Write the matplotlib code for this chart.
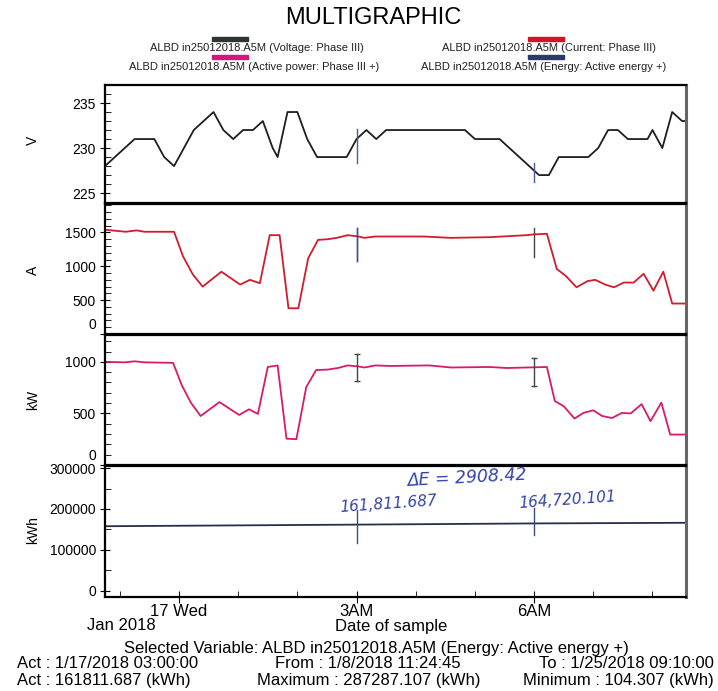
import matplotlib
matplotlib.use("Agg")
import matplotlib.pyplot as plt
from matplotlib.patches import Rectangle
from matplotlib.ticker import MultipleLocator, FixedLocator

plt.rcParams['font.family'] = ['Liberation Sans', 'DejaVu Sans']

W, H = 718, 691

# time = minutes after midnight of 17 Jan 2018 (negative = evening of the 16th)
voltT = [-75, -45, -25, -15, -5, 15, 35, 45, 55, 65, 75, 85, 95, 100, 110, 120, 130, 140, 170, 180,
         190, 200, 210, 290, 300, 325, 365, 375, 385, 415, 425, 435, 445, 455, 475, 480, 490, 500, 510, 515]
voltV = [228, 231, 231, 229, 228, 232, 234, 232, 231, 232, 232, 233, 230, 229, 234, 234, 231, 229, 229, 231,
         232, 231, 232, 232, 231, 231, 227, 227, 229, 229, 230, 232, 232, 231, 231, 232, 230, 234, 233, 233]

currT = [-75, -54, -43, -35, -5, 4, 14, 24, 43, 62, 72, 82, 92, 102, 111, 121, 131, 141, 151, 160, 171, 182,
         188, 199, 214, 248, 275, 315, 353, 359, 373, 383, 392, 403, 414, 422, 432, 441, 451, 461, 471, 481,
         491, 500, 515]
currA = [1540, 1510, 1530, 1510, 1510, 1150, 880, 700, 920, 730, 800, 750, 1460, 1460, 380, 380, 1120, 1390,
         1400, 1420, 1460, 1440, 1420, 1440, 1440, 1440, 1420, 1430, 1460, 1470, 1480, 960, 860, 690, 780,
         800, 730, 690, 760, 760, 890, 640, 920, 450, 450]

powT = [-75, -55, -45, -35, -6, 3, 12, 22, 41, 61, 71, 80, 90, 100, 109, 119, 129, 139, 151, 161, 171, 182,
        188, 199, 214, 254, 276, 315, 332, 373, 381, 390, 401, 410, 420, 429, 439, 449, 458, 469, 478, 489,
        498, 515]
powKW = [1000, 995, 1005, 995, 990, 770, 605, 475, 610, 485, 540, 495, 950, 965, 255, 250, 755, 920, 925, 940,
         965, 955, 945, 965, 960, 965, 945, 950, 940, 950, 620, 570, 450, 505, 530, 475, 455, 505, 500, 590,
         425, 605, 295, 295]

energyT = [-75, 180, 360, 515]
energyKWh = [157900, 161811.687, 164720.101, 166300]

# cursor marks drawn on the printout (3AM and 6AM)
cursorT = [180, 360]
voltCursor = [(228.3, 232.1), (226.2, 228.3)]
currCursor = [(1075, 1570), (1140, 1570)]
powCursor = [(810, 1080), (765, 1040)]
energyCursor = [(117000, 197500), (136000, 202000)]

hourTicks = [0, 180, 360]
hourLabels = ['17 Wed', '3AM', '6AM']
minorHours = [-60, 60, 120, 240, 300, 420, 480]

legendNames = ['ALBD in25012018.A5M (Voltage: Phase III)',
               'ALBD in25012018.A5M (Current: Phase III)',
               'ALBD in25012018.A5M (Active power: Phase III +)',
               'ALBD in25012018.A5M (Energy: Active energy +)']
legendColors = ['#2e3434', '#d2142a', '#d4177a', '#2e3a66']

penBlue = '#3344a8'


def box(top, bottom, left=105, right=686):
    return [left / W, 1 - bottom / H, (right - left) / W, (bottom - top) / H]


def setupPanel(ax, ylim, major, minor, label, labelY, zeroUp=False):
    ax.set_xlim(-75, 514)
    ax.set_ylim(*ylim)
    ax.yaxis.set_major_locator(FixedLocator(major))
    ax.yaxis.set_minor_locator(MultipleLocator(minor))
    names = [str(v) for v in major]
    if zeroUp:
        # the printout lifts the bottom "0" above the panel edge
        names[0] = ''
        ax.annotate('0', xy=(0, 0), xycoords=('axes fraction', 'data'), xytext=(-6.5, 1.5),
                    textcoords='offset points', ha='right', va='bottom', fontsize=10)
    ax.set_yticklabels(names)
    ax.tick_params(axis='y', which='major', direction='inout', length=7, labelsize=10, pad=3)
    ax.tick_params(axis='y', which='minor', direction='in', length=4)
    ax.tick_params(axis='x', which='both', bottom=False, labelbottom=False)
    for s in ax.spines.values():
        s.set_linewidth(1.6)
    ax.spines['right'].set_color('#666666')
    ax.spines['right'].set_linewidth(2.2)
    fig.text(33 / W, 1 - labelY / H, label, rotation=90, ha='center', va='center', fontsize=10)


def drawCursor(ax, spans, color, caps=False):
    for t, (lo, hi) in zip(cursorT, spans):
        ax.plot([t, t], [lo, hi], color=color, lw=1.0, marker='_' if caps else None, ms=5)


fig = plt.figure(figsize=(W / 100, H / 100), dpi=100)

fig.text(373 / W, 1 - 18 / H, 'MULTIGRAPHIC', ha='center', va='center', fontsize=17)
swatchPos = [(230, 39), (546, 39), (230, 57), (546, 57)]
textPos = [(257, 48), (549, 48), (254, 67), (544, 67)]
for name, col, (sx, sy), (tx, ty) in zip(legendNames, legendColors, swatchPos, textPos):
    fig.patches.append(Rectangle(((sx - 18) / W, 1 - (sy + 2) / H), 36 / W, 4 / H,
                                 transform=fig.transFigure, color=col))
    fig.text(tx / W, 1 - ty / H, name, ha='center', va='center', fontsize=8, color='#222222')

ax1 = fig.add_axes(box(85, 203))
ax1.plot(voltT, voltV, color='#1e1e1e', lw=1.3)
drawCursor(ax1, voltCursor, '#4a5a9a')
setupPanel(ax1, (223.9, 237), [225, 230, 235], 1, 'V', 140)

ax2 = fig.add_axes(box(204, 334))
ax2.plot(currT, currA, color='#d01c2c', lw=1.3)
drawCursor(ax2, currCursor, '#444444')
ax2.plot([180, 180], currCursor[0], color='#3050c0', lw=1.0)
setupPanel(ax2, (0, 1920), [0, 500, 1000, 1500], 100, 'A', 270, zeroUp=True)

ax3 = fig.add_axes(box(335, 465))
ax3.plot(powT, powKW, color='#d81a6a', lw=1.3)
drawCursor(ax3, powCursor, '#444444', caps=True)
setupPanel(ax3, (0, 1260), [0, 500, 1000], 100, 'kW', 400, zeroUp=True)

ax4 = fig.add_axes(box(466, 597))
ax4.plot(energyT, energyKWh, color='#262f4a', lw=1.3)
drawCursor(ax4, energyCursor, '#3b4a8a')
setupPanel(ax4, (-15000, 305000), [0, 100000, 200000, 300000], 50000, 'kWh', 530)
ax4.xaxis.set_major_locator(FixedLocator(hourTicks))
ax4.xaxis.set_minor_locator(FixedLocator(minorHours))
ax4.set_xticklabels(hourLabels)
ax4.tick_params(axis='x', which='major', bottom=True, labelbottom=True, direction='inout',
                length=8, labelsize=12, pad=1)
ax4.tick_params(axis='x', which='minor', bottom=True, direction='in', length=4)

# handwritten notes on the printout
ax4.text(292, 276000, '\u0394E = 2908.42', color=penBlue, fontsize=12.5, style='italic',
         ha='center', va='center', family='DejaVu Sans', rotation=3)
ax4.text(212, 212000, '161,811.687', color=penBlue, fontsize=11, style='italic',
         ha='center', va='center', family='DejaVu Sans', rotation=4)
ax4.text(394, 222000, '164,720.101', color=penBlue, fontsize=11, style='italic',
         ha='center', va='center', family='DejaVu Sans', rotation=4)

fig.text(121 / W, 1 - 625 / H, 'Jan 2018', ha='center', va='center', fontsize=12)
fig.text(391 / W, 1 - 626 / H, 'Date of sample', ha='center', va='center', fontsize=12)

fig.text(376 / W, 1 - 649 / H, 'Selected Variable: ALBD in25012018.A5M (Energy: Active energy +)',
         ha='center', va='center', fontsize=12)
fig.text(17 / W, 1 - 664 / H, 'Act : 1/17/2018 03:00:00', ha='left', va='center', fontsize=12)
fig.text(368 / W, 1 - 664 / H, 'From : 1/8/2018 11:24:45', ha='center', va='center', fontsize=12)
fig.text(714 / W, 1 - 664 / H, 'To : 1/25/2018 09:10:00', ha='right', va='center', fontsize=12)
fig.text(17 / W, 1 - 680 / H, 'Act : 161811.687 (kWh)', ha='left', va='center', fontsize=12)
fig.text(369 / W, 1 - 680 / H, 'Maximum : 287287.107 (kWh)', ha='center', va='center', fontsize=12)
fig.text(714 / W, 1 - 680 / H, 'Minimum : 104.307 (kWh)', ha='right', va='center', fontsize=12)

fig.savefig('out.png', dpi=100)
